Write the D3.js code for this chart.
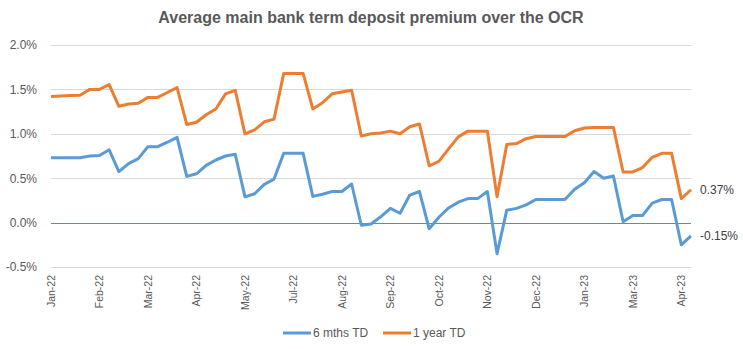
<!DOCTYPE html>
<html>
<head>
<meta charset="utf-8">
<script src="https://cdn.jsdelivr.net/npm/d3@7"></script>
<style>
  html, body { margin: 0; padding: 0; background: #fff; }
  svg { display: block; font-family: "Liberation Sans", Arial, sans-serif; }
</style>
</head>
<body>
<svg id="chart" width="743" height="349"></svg>
<script>
// ---- data ----
const title = "Average main bank term deposit premium over the OCR";
const tickLabels = ["Jan-22","Feb-22","Mar-22","Apr-22","May-22","Jul-22","Aug-22","Sep-22",
                    "Oct-22","Nov-22","Dec-22","Jan-23","Mar-23","Apr-23"];
const yTicks = [-0.5, 0.0, 0.5, 1.0, 1.5, 2.0];
const seriesNames = ["6 mths TD", "1 year TD"];
const sixMonths = [
  0.73, 0.73, 0.73, 0.73, 0.75, 0.755, 0.82, 0.575, 0.665, 0.72,
  0.855, 0.855, 0.905, 0.96, 0.52, 0.55, 0.645, 0.705, 0.75, 0.77,
  0.29, 0.325, 0.43, 0.49, 0.78, 0.78, 0.78, 0.295, 0.32, 0.35,
  0.35, 0.435, -0.03, -0.015, 0.065, 0.16, 0.105, 0.31, 0.35, -0.07,
  0.06, 0.165, 0.23, 0.27, 0.27, 0.35, -0.35, 0.14, 0.16, 0.2,
  0.26, 0.26, 0.26, 0.26, 0.375, 0.45, 0.575, 0.5, 0.525, 0.01,
  0.08, 0.08, 0.22, 0.26, 0.26, -0.25, -0.15
];
const oneYear = [
  1.42, 1.425, 1.43, 1.435, 1.50, 1.50, 1.555, 1.31, 1.335, 1.345,
  1.41, 1.41, 1.465, 1.52, 1.105, 1.13, 1.215, 1.28, 1.45, 1.49,
  1.00, 1.045, 1.135, 1.165, 1.68, 1.68, 1.68, 1.28, 1.35, 1.45,
  1.47, 1.49, 0.975, 1.00, 1.01, 1.03, 1.00, 1.08, 1.11, 0.64,
  0.69, 0.83, 0.965, 1.03, 1.03, 1.03, 0.29, 0.88, 0.89, 0.945,
  0.97, 0.97, 0.97, 0.97, 1.035, 1.065, 1.07, 1.07, 1.07, 0.57,
  0.57, 0.62, 0.735, 0.78, 0.78, 0.27, 0.37
];
const categories = d3.range(sixMonths.length);
const tickEvery = 5;

// ---- layout ----
const svg = d3.select("#chart");
const plotLeft = 51, plotRight = 691, plotTop = 45, plotBottom = 267;
const x = d3.scalePoint().domain(categories).range([plotLeft, plotRight]);
const y = d3.scaleLinear().domain([-0.5, 2.0]).range([plotBottom, plotTop]);
const grey = "#595959";
const colors = ["#5B9BD5", "#ED7D31"];

// title
svg.append("text")
  .attr("x", 371).attr("y", 23)
  .attr("text-anchor", "middle")
  .attr("font-size", 16).attr("font-weight", "bold")
  .attr("fill", grey)
  .text(title);

// gridlines
svg.append("g").selectAll("line").data(yTicks.filter(d => d !== 0)).join("line")
  .attr("x1", plotLeft).attr("x2", plotRight)
  .attr("y1", d => Math.round(y(d)) + 0.5).attr("y2", d => Math.round(y(d)) + 0.5)
  .attr("stroke", "#D9D9D9").attr("stroke-width", 1);

// y axis labels
const yAxis = d3.axisLeft(y).tickValues(yTicks).tickSize(0).tickPadding(0)
  .tickFormat(d => d.toFixed(1) + "%");
const yg = svg.append("g").attr("transform", `translate(${37},0)`).call(yAxis);
yg.select(".domain").remove();
yg.selectAll("text").attr("font-size", 12).attr("fill", grey)
  .attr("font-family", "Liberation Sans, Arial, sans-serif");

// zero axis line
svg.append("line")
  .attr("x1", plotLeft).attr("x2", plotRight)
  .attr("y1", Math.round(y(0)) + 0.5).attr("y2", Math.round(y(0)) + 0.5)
  .attr("stroke", "#5A8AC6").attr("stroke-width", 1);

// x labels
const xg = svg.append("g");
xg.selectAll("text").data(tickLabels).join("text")
  .attr("transform", (d, i) => `translate(${x(categories[i * tickEvery])},${275}) rotate(-90)`)
  .attr("text-anchor", "end")
  .attr("dy", "0.35em")
  .attr("font-size", 10.5)
  .attr("fill", grey)
  .text(d => d);

// lines
const line = d3.line().x((d, i) => x(categories[i])).y(d => y(d));
[sixMonths, oneYear].forEach((s, k) => {
  svg.append("path").datum(s)
    .attr("d", line)
    .attr("fill", "none")
    .attr("stroke", colors[k])
    .attr("stroke-width", 3)
    .attr("stroke-linejoin", "round");
});

// end labels
[sixMonths, oneYear].forEach((s, k) => {
  const v = s[s.length - 1];
  svg.append("text")
    .attr("x", 700).attr("y", y(v))
    .attr("dy", "0.35em")
    .attr("font-size", 12)
    .attr("fill", "#404040")
    .text(v.toFixed(2) + "%");
});

// legend
const legendX = [283, 383];
seriesNames.forEach((n, k) => {
  const g = svg.append("g").attr("transform", `translate(${legendX[k]},333)`);
  g.append("line").attr("x1", 0).attr("x2", 28).attr("y1", 0).attr("y2", 0)
    .attr("stroke", colors[k]).attr("stroke-width", 3);
  g.append("text").attr("x", 30).attr("y", 0).attr("dy", "0.35em")
    .attr("font-size", 12).attr("fill", grey).text(n);
});
</script>
</body>
</html>
